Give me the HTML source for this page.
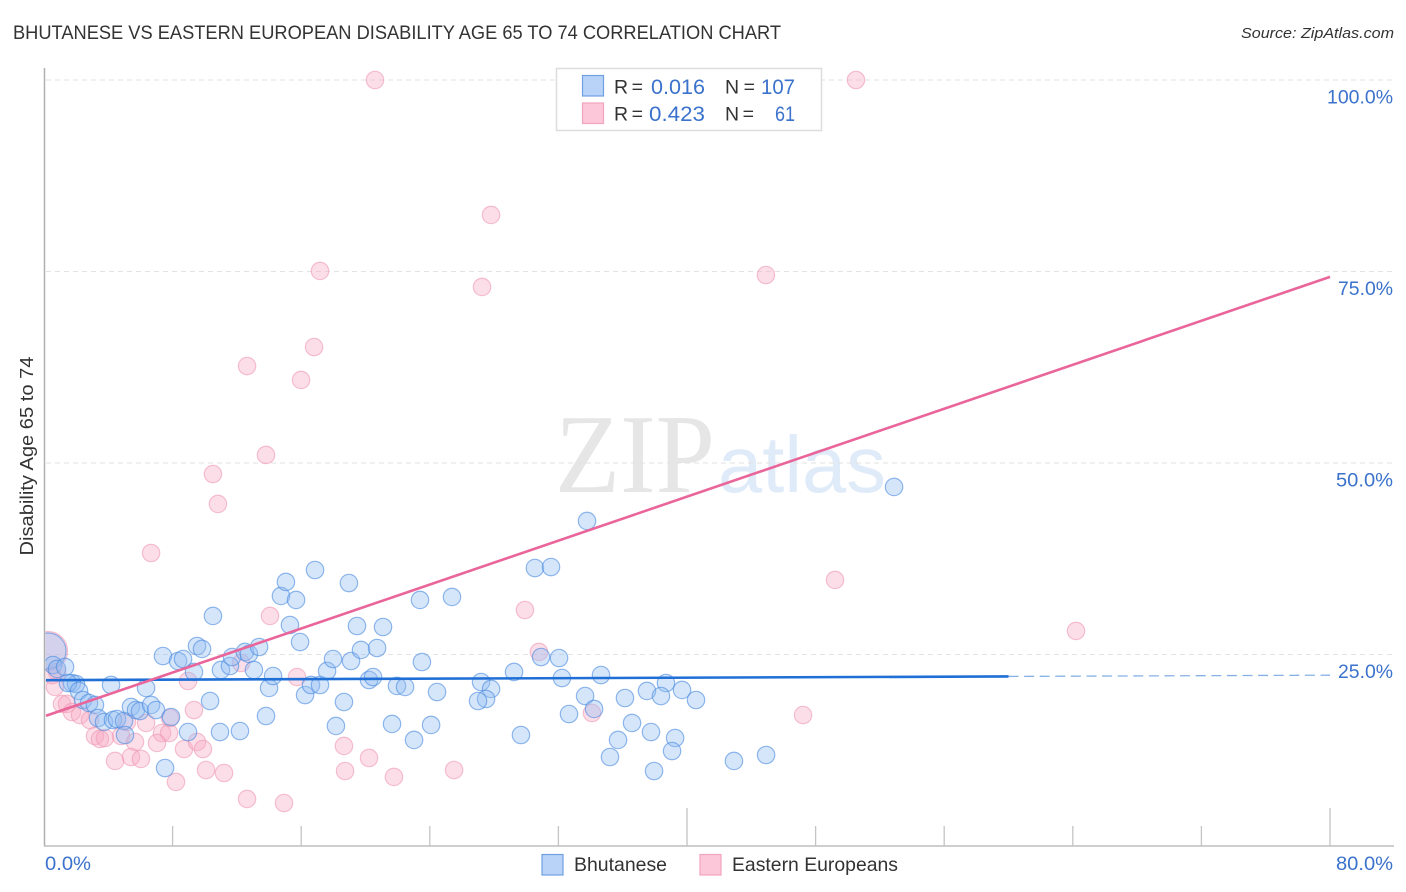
<!DOCTYPE html>
<html lang="en">
<head>
<meta charset="utf-8">
<title>Bhutanese vs Eastern European Disability Age 65 to 74 Correlation Chart</title>
<style>
html,body{margin:0;padding:0;background:#fff;width:1406px;height:892px;overflow:hidden}
svg{display:block;font-family:"Liberation Sans",sans-serif}
</style>
</head>
<body>
<svg id="chart" width="1406" height="892" viewBox="0 0 1406 892" xmlns="http://www.w3.org/2000/svg">
  <defs>
    <clipPath id="plot-clip"><rect x="45.5" y="60" width="1348" height="786"/></clipPath>
  </defs>
  <text x="13" y="39" font-size="19" fill="#333" textLength="768" lengthAdjust="spacingAndGlyphs">BHUTANESE VS EASTERN EUROPEAN DISABILITY AGE 65 TO 74 CORRELATION CHART</text>
  <text x="1394" y="38" font-size="15" font-style="italic" fill="#333" text-anchor="end" textLength="153" lengthAdjust="spacingAndGlyphs">Source: ZipAtlas.com</text>

  <g id="watermark">
    <text x="555" y="492" font-family="'Liberation Serif',serif" font-size="112" fill="#e6e6e6" textLength="160" lengthAdjust="spacingAndGlyphs">ZIP</text>
    <text x="718" y="492" font-size="80" fill="#e0ebf9" textLength="168" lengthAdjust="spacingAndGlyphs">atlas</text>
  </g>

  <g id="grid"></g>
  <g id="points-pink" clip-path="url(#plot-clip)"></g>
  <g id="points-blue" clip-path="url(#plot-clip)"></g>
  <g id="trends" clip-path="url(#plot-clip)"></g>
  <g id="axes"></g>

  <text transform="translate(33,456) rotate(-90)" font-size="18.5" fill="#333" text-anchor="middle" textLength="199" lengthAdjust="spacingAndGlyphs">Disability Age 65 to 74</text>

  <g>
    <rect x="556.5" y="68.5" width="265" height="62" fill="#fff" stroke="#ddd" stroke-width="1.5"/>
    <rect x="582.5" y="75.5" width="21" height="20.5" fill="#b8d3f7" stroke="#6fa0e2" stroke-width="1.2"/>
    <rect x="582.5" y="103" width="21" height="20.5" fill="#fcc8d9" stroke="#f2a3bd" stroke-width="1.2"/>
    <text x="614" y="93.5" font-size="19.5" fill="#333" textLength="29">R =</text>
    <text x="651" y="94" font-size="21" fill="#3b72cc" textLength="54" lengthAdjust="spacingAndGlyphs">0.016</text>
    <text x="725" y="93.5" font-size="19.5" fill="#333" textLength="30">N =</text>
    <text x="761" y="94" font-size="21" fill="#3b72cc" textLength="34" lengthAdjust="spacingAndGlyphs">107</text>
    <text x="614" y="120.5" font-size="19.5" fill="#333" textLength="29">R =</text>
    <text x="649" y="121" font-size="21" fill="#3b72cc" textLength="56" lengthAdjust="spacingAndGlyphs">0.423</text>
    <text x="725" y="120.5" font-size="19.5" fill="#333" textLength="29">N =</text>
    <text x="775" y="121" font-size="21" fill="#3b72cc" textLength="20" lengthAdjust="spacingAndGlyphs">61</text>
  </g>

  <g>
    <g>
      <rect x="542" y="854.5" width="21" height="20.5" fill="#b8d3f7" stroke="#6fa0e2" stroke-width="1.2"/>
      <text x="574" y="871" font-size="19.5" fill="#333" textLength="93" lengthAdjust="spacingAndGlyphs">Bhutanese</text>
    </g>
    <g>
      <rect x="700" y="854.5" width="21" height="20.5" fill="#fcc8d9" stroke="#f2a3bd" stroke-width="1.2"/>
      <text x="732" y="871" font-size="19.5" fill="#333" textLength="166" lengthAdjust="spacingAndGlyphs">Eastern Europeans</text>
    </g>
  </g>
</svg>
<script>
// Tick data
const xTickValues = [0, 8, 16, 24, 32, 40, 48, 56, 64, 72, 80];
const xMajorTicks = [40, 80];
const xTickLabels = ["0.0%", "80.0%"];
const yTickValues = [100, 75, 50, 25];
const yTickLabels = ["100.0%", "75.0%", "50.0%", "25.0%"];

// Bhutanese series (x = Bhutanese %, y = disability %)
const blueX = [0.56,0.81,1.31,1.74,1.99,1.49,2.18,2.43,2.80,3.17,4.17,3.36,3.73,4.29,4.54,4.98,5.04,5.41,5.72,5.97,6.35,6.66,6.97,7.90,8.96,10.95,12.19,13.81,7.53,10.33,7.40,8.34,8.65,9.52,9.83,9.33,10.51,11.01,11.57,11.70,12.50,12.75,13.06,13.38,14.00,14.25,15.30,15.93,16.24,16.61,17.17,17.61,17.98,18.66,18.16,19.10,19.72,20.72,20.22,20.47,19.47,21.09,14.74,15.68,15.05,16.86,18.97,23.39,25.38,30.54,31.54,33.78,52.88,23.51,30.92,32.04,29.24,34.65,32.22,21.96,22.46,24.45,27.19,27.81,27.50,27.00,33.66,34.22,32.66,36.14,37.51,38.69,38.38,39.69,40.56,36.58,37.76,35.71,39.26,39.07,35.21,37.95,42.92,44.92,21.65,24.08,23.02,29.67];
const blueY = [23.63,23.11,23.37,21.28,21.15,21.28,20.24,19.06,18.67,18.41,21.02,16.71,16.19,16.45,16.58,16.32,14.49,18.15,17.75,17.62,20.63,18.41,17.75,16.84,14.88,14.88,15.01,16.97,10.18,18.93,24.80,24.15,24.41,26.11,25.72,22.72,30.03,22.98,23.50,24.67,25.33,25.07,22.98,25.98,20.63,22.19,28.85,26.63,19.71,21.02,21.02,22.85,24.41,18.80,15.67,24.15,25.59,25.85,21.67,22.06,28.72,28.59,32.64,32.12,34.47,36.03,34.33,32.12,32.51,36.29,36.42,42.43,46.87,24.02,24.67,24.54,22.72,22.32,21.93,20.89,20.76,20.10,21.41,20.50,19.19,18.93,19.58,17.89,17.23,19.32,20.24,21.28,19.58,20.37,19.06,16.06,14.88,13.84,14.10,12.40,11.62,9.79,11.10,11.88,15.93,15.80,13.84,14.49];
const blueLargeX = [0.25];
const blueLargeY = [25.46];

// Eastern Europeans series
const pinkX = [14.06,12.26,8.96,15.74,9.33,7.84,6.35,0.68,1.12,1.43,1.74,2.24,2.86,3.17,3.48,3.79,4.79,5.16,5.66,7.34,7.78,7.03,8.71,9.52,9.89,4.42,5.41,6.03,10.08,11.20,8.21,12.63,14.93,18.66,18.73,20.22,29.92,30.79,34.09,21.77,25.51,20.59,50.51,27.81,27.25,17.17,44.91,12.63,16.80,15.99,13.81,10.51,10.82,6.66,49.21,64.20,47.22,0.81,0.50];
const pinkY = [30.03,23.89,21.54,22.06,17.75,16.71,16.06,20.76,18.54,18.54,17.49,17.10,16.45,14.36,13.97,14.10,14.36,16.19,13.58,14.75,14.75,13.45,12.66,13.58,12.66,11.10,11.62,11.36,9.92,9.53,8.36,6.14,5.61,13.06,9.79,11.49,30.81,25.33,17.36,9.01,9.92,100,100,82.38,72.98,75.07,74.54,62.66,65.14,60.84,51.05,48.56,44.65,38.25,34.73,28.07,17.10,22.72,22.30];
const pinkLargeX = [0.25];
const pinkLargeY = [25.46];

// Trend lines
const trendX = [0, 80];
const blueTrendY = [21.65, 22.3];
const pinkTrendY = [17.0, 74.3];
const blueSolidEndX = [60];

// Axis functions
function xScale(v) { return 44 + v * 16.075; }
function yScale(v) { return 846 - v * 7.66; }

const NS = "http://www.w3.org/2000/svg";
function make(tag, attrs, parent) {
  const el = document.createElementNS(NS, tag);
  for (const k in attrs) el.setAttribute(k, attrs[k]);
  parent.appendChild(el);
  return el;
}
const gridG = document.getElementById("grid");
const axesG = document.getElementById("axes");
const pinkG = document.getElementById("points-pink");
const blueG = document.getElementById("points-blue");
const trendG = document.getElementById("trends");

// Gridlines and y tick labels
const yLabelWidths = { "100.0%": 66, "75.0%": 55, "50.0%": 57, "25.0%": 55 };
yTickValues.forEach(function (v, i) {
  const line = make("line", { x1: 46, x2: 1394, y1: yScale(v), y2: yScale(v), stroke: "#e2e2e2", "stroke-width": 1, "stroke-dasharray": "5 4" }, gridG);
  
  
  const label = make("text", { x: 1393, y: yScale(v) + 23.5, "font-size": 19, fill: "#3b72cc", "text-anchor": "end", textLength: yLabelWidths[yTickLabels[i]], lengthAdjust: "spacingAndGlyphs" }, axesG);
  label.textContent = yTickLabels[i];
  
  
});

// Axis lines
const yAxis = make("line", { x1: 44.5, x2: 44.5, y1: 68, y2: 846, stroke: "#b0b0b0", "stroke-width": 1.5 }, axesG);


const xAxis = make("line", { x1: 44, x2: 1394, y1: 846, y2: 846, stroke: "#bdbdbd", "stroke-width": 1.5 }, axesG);



// X ticks
xTickValues.forEach(function (v) {
  if (v === 0) return;
  const top = xMajorTicks.indexOf(v) >= 0 ? 808 : 826;
  const tick = make("line", { x1: xScale(v), x2: xScale(v), y1: top, y2: 846, stroke: "#c4c4c4", "stroke-width": 1.3 }, axesG);
  
  
});
const xMinLabel = make("text", { x: 45, y: 870, "font-size": 19, fill: "#3b72cc", textLength: 46, lengthAdjust: "spacingAndGlyphs" }, axesG);
xMinLabel.textContent = xTickLabels[0];


const xMaxLabel = make("text", { x: 1393, y: 870, "font-size": 19, fill: "#3b72cc", "text-anchor": "end", textLength: 57, lengthAdjust: "spacingAndGlyphs" }, axesG);
xMaxLabel.textContent = xTickLabels[1];



// Points
const pinkStyle = { fill: "#f7a9c3", "fill-opacity": 0.38, stroke: "#ee9ab4", "stroke-opacity": 0.6, "stroke-width": 1.2 };
const blueStyle = { fill: "#93bdf1", "fill-opacity": 0.38, stroke: "#4a8ae0", "stroke-opacity": 0.6, "stroke-width": 1.2 };
function circleAttrs(xv, yv, r, style) {
  return Object.assign({ cx: xScale(xv), cy: yScale(yv), r: r }, style);
}
pinkLargeX.forEach(function (xv, i) {
  const c = make("circle", circleAttrs(xv, pinkLargeY[i], 19.5, pinkStyle), pinkG);
  
  
});
pinkX.forEach(function (xv, i) {
  const c = make("circle", circleAttrs(xv, pinkY[i], 8.7, pinkStyle), pinkG);
  
  
});
blueLargeX.forEach(function (xv, i) {
  const c = make("circle", circleAttrs(xv, blueLargeY[i], 18, blueStyle), blueG);
  
  
});
blueX.forEach(function (xv, i) {
  const c = make("circle", circleAttrs(xv, blueY[i], 8.7, blueStyle), blueG);
  
  
});

// Trend lines
function blueTrendAt(xv) {
  const t = (xv - trendX[0]) / (trendX[1] - trendX[0]);
  return blueTrendY[0] + t * (blueTrendY[1] - blueTrendY[0]);
}
const blueSolid = make("line", { x1: xScale(trendX[0]) + 2, y1: yScale(blueTrendAt(trendX[0])), x2: xScale(blueSolidEndX[0]), y2: yScale(blueTrendAt(blueSolidEndX[0])), stroke: "#1f6fd6", "stroke-width": 2.6 }, trendG);


const blueDash = make("line", { x1: xScale(blueSolidEndX[0]), y1: yScale(blueTrendAt(blueSolidEndX[0])), x2: xScale(trendX[1]), y2: yScale(blueTrendAt(trendX[1])), stroke: "#5f95de", "stroke-opacity": 0.75, "stroke-width": 1.3, "stroke-dasharray": "10 5.6" }, trendG);


const pinkTrend = make("line", { x1: xScale(trendX[0]) + 2, y1: yScale(pinkTrendY[0]), x2: xScale(trendX[1]), y2: yScale(pinkTrendY[1]), stroke: "#e9659a", "stroke-width": 2.6 }, trendG);


</script>
</body>
</html>
